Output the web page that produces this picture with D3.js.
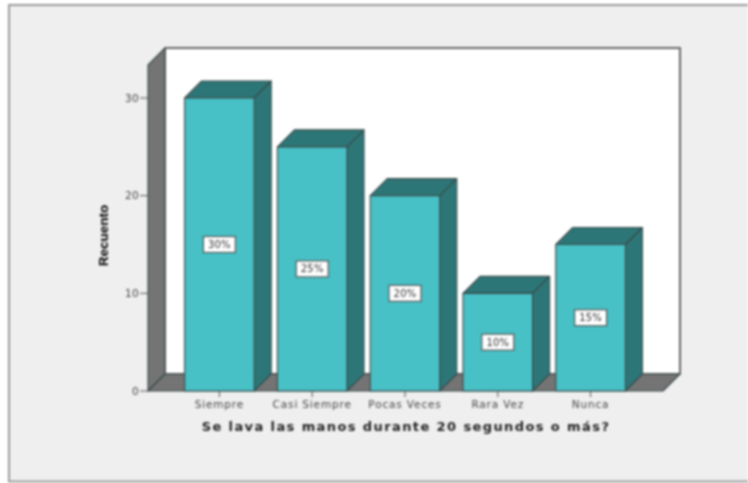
<!DOCTYPE html>
<html><head><meta charset="utf-8"><script src="https://cdn.jsdelivr.net/npm/d3@7"></script>
<style>html,body{margin:0;padding:0;background:#fff}svg{display:block;filter:blur(0.8px)}</style></head>
<body><svg id="c" width="748" height="483"></svg>
<script>
const categories = ["Siempre","Casi Siempre","Pocas Veces","Rara Vez","Nunca"];
const counts = [30,25,20,10,15];
const percentLabels = ["30%","25%","20%","10%","15%"];
const yTicks = [0,10,20,30];
const xTitle = "Se lava las manos durante 20 segundos o más?";
const yTitle = "Recuento";

const svg = d3.select("#c");
const D = 17, x0 = 148, x1 = 663, yBase = 391, yTop = 65;
const y = d3.scaleLinear().domain([0,30]).range([yBase,98]);
const x = d3.scaleBand().domain(categories).range([173,637]).paddingInner(0.25).paddingOuter(0.125);
const wallC = "#747474", fill = "#47c1c6", dark = "#2d7677", edge = "#3a4a4a";
const poly = (pts,f,s=edge,w=1.1)=>svg.append("polygon").attr("points",pts.map(p=>p.join(",")).join(" ")).attr("fill",f).attr("stroke",s).attr("stroke-width",w).attr("stroke-linejoin","round");
const label = (x,y,txt,size,col,anchor,spacing,weight)=>svg.append("text").attr("x",x).attr("y",y).attr("text-anchor",anchor)
  .style("font-family","'DejaVu Sans'").style("font-size",size+"px").style("letter-spacing",spacing+"px").style("font-weight",weight||"normal").attr("fill",col).text(txt);

svg.append("rect").attr("x",9).attr("y",5).attr("width",760).attr("height",476.5).attr("fill","#efefef").attr("stroke","#9a9a9a").attr("stroke-width",2);
poly([[x0+D,yTop-D],[x1+D,yTop-D],[x1+D,yBase-D],[x0+D,yBase-D]],"#fff","#666",2);
poly([[x0,yTop],[x0+D,yTop-D],[x0+D,yBase-D],[x0,yBase]],wallC);
poly([[x0,yBase],[x0+D,yBase-D],[x1+D,yBase-D],[x1,yBase]],wallC);

categories.forEach((c,i)=>{
  const l=x(c), r=l+x.bandwidth(), t=y(counts[i]);
  poly([[l,t],[l+D,t-D],[r+D,t-D],[r,t]],dark);
  poly([[r,t],[r+D,t-D],[r+D,yBase-D],[r,yBase]],dark);
  poly([[l,t],[r,t],[r,yBase],[l,yBase]],fill);
});
categories.forEach((c,i)=>{
  const cx=x(c)+x.bandwidth()/2, cy=y(counts[i]/2);
  svg.append("rect").attr("x",cx-16).attr("y",cy-8).attr("width",32).attr("height",16).attr("fill","#fff").attr("stroke","#555").attr("stroke-width",1.2);
  label(cx,cy+3.5,percentLabels[i],10,"#333","middle",0.2);
});
yTicks.forEach(t=>{
  svg.append("line").attr("x1",x0-8).attr("x2",x0).attr("y1",y(t)).attr("y2",y(t)).attr("stroke","#555");
  label(x0-9,y(t)+3.5,t,10.5,"#444","end",0.3);
});
categories.forEach(c=>{
  const cx=x(c)+x.bandwidth()/2;
  svg.append("line").attr("x1",cx).attr("x2",cx).attr("y1",yBase).attr("y2",yBase+6).attr("stroke","#555");
  label(cx,yBase+17,c,10.5,"#444","middle",0.85);
});
label(406,431,xTitle,13,"#222","middle",1.4,"bold");
svg.append("text").attr("transform","translate(108,235.5) rotate(-90)").attr("text-anchor","middle")
  .style("font-family","'Liberation Sans'").style("font-weight","bold").style("font-size","13.5px").attr("fill","#000").text(yTitle);
</script></body></html>
